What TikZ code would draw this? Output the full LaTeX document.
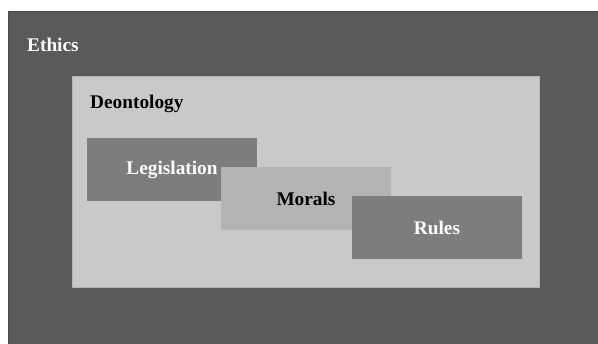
\documentclass[tikz,border=0pt]{standalone}
\usepackage{fontspec}
\setmainfont{Liberation Serif}
\usepackage{tikz}
\usetikzlibrary{positioning}
\definecolor{darkbg}{HTML}{5A5A5A}
\definecolor{lightbg}{HTML}{C9C9C9}
\definecolor{midbox}{HTML}{7D7D7D}
\definecolor{palebox}{HTML}{B3B3B3}

\begin{document}
\begin{tikzpicture}[x=1pt, y=-1pt]
\tikzstyle{area}=[shape=rectangle, anchor=north west, inner sep=0pt, outer sep=0pt]
\tikzstyle{concept}=[area, minimum width=170pt, minimum height=63pt, font=\fontsize{19.3}{21}\selectfont\bfseries]
\tikzstyle{title}=[anchor=west, inner sep=0pt, font=\fontsize{19.3}{21}\selectfont\bfseries]
\useasboundingbox (0,0) rectangle (598,344);
\node[area, fill=darkbg, draw=darkbg!85!black, minimum width=590pt, minimum height=333pt] (0) at (8,11) {};
\node[title, text=white] (1) at (27,45) {Ethics};
\node[area, fill=lightbg, draw=lightbg!90!black, minimum width=467pt, minimum height=211pt] (2) at (72,76) {};
\node[title, text=black] (3) at (90,104) {Deontology};
\node[concept, fill=midbox, text=white] (4) at (87,138) {Legislation};
\node[concept, fill=palebox, text=black] (5) at (221,167) {Morals};
\node[concept, fill=midbox, text=white] (6) at (352,196) {Rules};
\end{tikzpicture}
\end{document}
